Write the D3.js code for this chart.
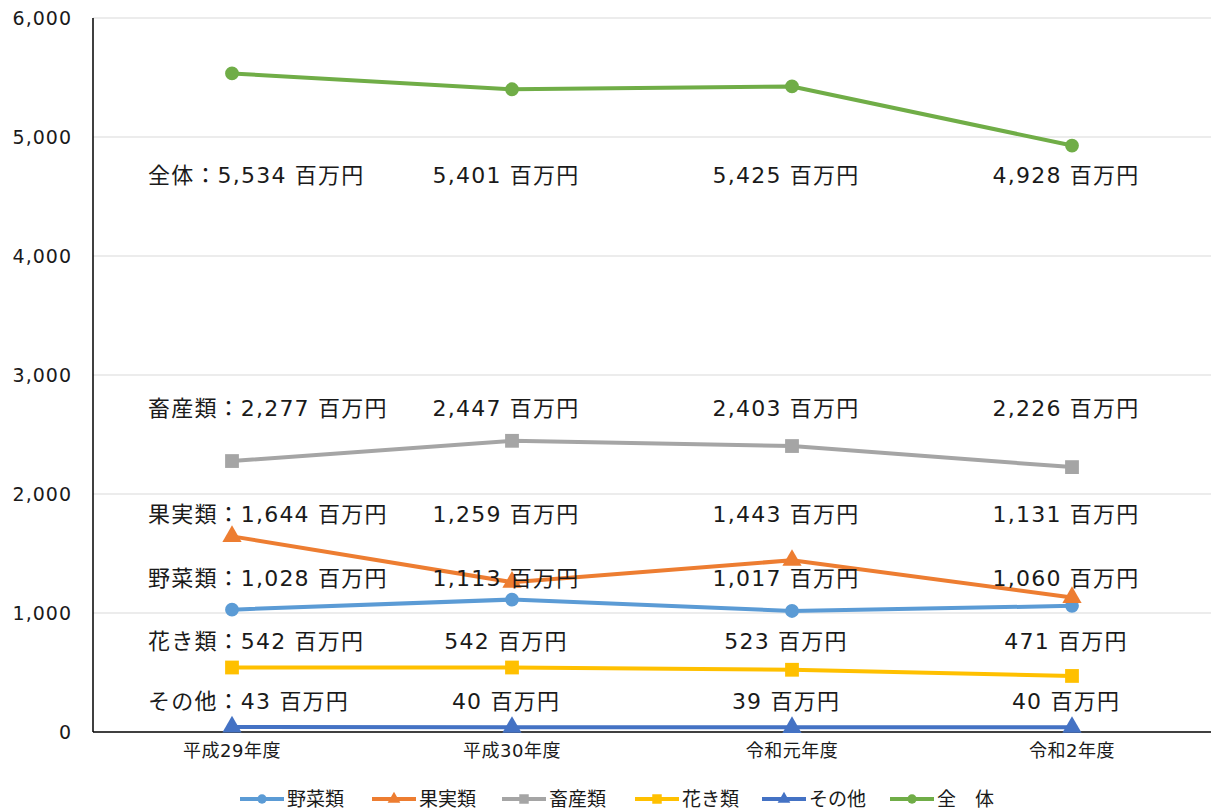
<!DOCTYPE html>
<html>
<head>
<meta charset="utf-8">
<script src="https://d3js.org/d3.v7.min.js"></script>
<style>
  body { margin: 0; background: #fff; }
  text { font-family: "DejaVu Sans", "Noto Sans CJK JP", sans-serif; fill: #1a1a1a; }
</style>
</head>
<body>
<div id="chart"></div>
<script>
// categories and values
var years = ["平成29年度", "平成30年度", "令和元年度", "令和2年度"];
var yTicks = [0, 1000, 2000, 3000, 4000, 5000, 6000];

var yasai  = [1028, 1113, 1017, 1060];
var kajitsu = [1644, 1259, 1443, 1131];
var chikusan = [2277, 2447, 2403, 2226];
var kaki   = [542, 542, 523, 471];
var sonota = [43, 40, 39, 40];
var zentai = [5534, 5401, 5425, 4928];

var names = ["野菜類", "果実類", "畜産類", "花き類", "その他", "全　体"];
var labelNames = ["野菜類", "果実類", "畜産類", "花き類", "その他", "全体"];
var colors = ["#5b9bd5", "#ed7d31", "#a5a5a5", "#ffc000", "#4472c4", "#70ad47"];
var symbols = ["circle", "triangle", "square", "square", "triangle", "circle"];
var values = [yasai, kajitsu, chikusan, kaki, sonota, zentai];

// vertical position (in data units) of the annotation row for each series
var labelRow = [1294, 1832, 2723, 765, 261, 4681];

var width = 1211, height = 811;
var svg = d3.select("#chart").append("svg")
  .attr("width", width).attr("height", height);

var x = d3.scalePoint().domain(years).range([232, 1072]);
var y = d3.scaleLinear().domain([0, 6000]).range([732, 18]);

// gridlines
svg.append("g").selectAll("line")
  .data(yTicks.filter(function (d) { return d > 0; }))
  .join("line")
  .attr("x1", 93).attr("x2", 1211)
  .attr("y1", function (d) { return y(d); })
  .attr("y2", function (d) { return y(d); })
  .attr("stroke", "#d9d9d9").attr("stroke-width", 1);

// y tick labels
svg.append("g").selectAll("text")
  .data(yTicks)
  .join("text")
  .attr("x", 72)
  .attr("y", function (d) { return y(d); })
  .attr("dy", "0.35em")
  .attr("text-anchor", "end")
  .style("font-size", "19px")
  .style("letter-spacing", "1px")
  .text(function (d) { return d3.format(",")(d); });

// axes lines
svg.append("line").attr("x1", 93).attr("x2", 93).attr("y1", 18).attr("y2", 732)
  .attr("stroke", "#000").attr("stroke-width", 1.5);
svg.append("line").attr("x1", 93).attr("x2", 1211).attr("y1", 732).attr("y2", 732)
  .attr("stroke", "#000").attr("stroke-width", 1.5);

// x labels
svg.append("g").selectAll("text")
  .data(years)
  .join("text")
  .attr("x", function (d) { return x(d); })
  .attr("y", 757)
  .attr("text-anchor", "middle")
  .style("font-size", "18px")
  .style("letter-spacing", "0.5px")
  .text(function (d) { return d; });

function symbolPath(kind, size) {
  var t = kind === "circle" ? d3.symbolCircle : kind === "square" ? d3.symbolSquare : d3.symbolTriangle;
  return d3.symbol().type(t).size(size)();
}
var symSize = { circle: 150, square: 190, triangle: 160 };

var line = d3.line()
  .x(function (d, i) { return x(years[i]); })
  .y(function (d) { return y(d); });

// series
values.forEach(function (vals, s) {
  var g = svg.append("g");
  g.append("path")
    .attr("d", line(vals))
    .attr("fill", "none")
    .attr("stroke", colors[s])
    .attr("stroke-width", 4)
    .attr("stroke-linejoin", "round");
  g.selectAll("path.m")
    .data(vals)
    .join("path")
    .attr("class", "m")
    .attr("transform", function (d, i) { return "translate(" + x(years[i]) + "," + y(d) + ")"; })
    .attr("d", symbolPath(symbols[s], symSize[symbols[s]]))
    .attr("fill", colors[s]);
});

// annotations
values.forEach(function (vals, s) {
  var g = svg.append("g");
  vals.forEach(function (v, i) {
    var txt = d3.format(",")(v) + " 百万円";
    var t = g.append("text")
      .attr("y", y(labelRow[s]))
      .attr("dy", "0.35em")
      .style("font-size", "22px")
      .style("letter-spacing", "1.2px");
    if (i === 0) {
      t.attr("x", 148).attr("text-anchor", "start").text(labelNames[s] + "：" + txt);
    } else {
      t.attr("x", x(years[i]) - 6).attr("text-anchor", "middle").text(txt);
    }
  });
});

// legend
var legX = [240, 372, 502, 635, 762, 890];
var legend = svg.append("g");
names.forEach(function (n, s) {
  var lg = legend.append("g").attr("transform", "translate(" + legX[s] + ",799)");
  lg.append("line").attr("x1", 0).attr("x2", 44).attr("y1", 0).attr("y2", 0)
    .attr("stroke", colors[s]).attr("stroke-width", 4);
  lg.append("path").attr("transform", "translate(22,0)")
    .attr("d", symbolPath(symbols[s], symbols[s] === "square" ? 90 : 70))
    .attr("fill", colors[s]);
  lg.append("text").attr("x", 47).attr("y", 0).attr("dy", "0.35em")
    .style("font-size", "19px").text(n);
});
</script>
</body>
</html>
